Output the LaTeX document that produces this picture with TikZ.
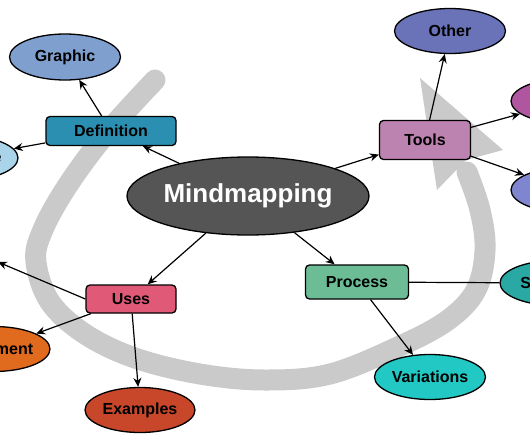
\documentclass[tikz,border=0pt]{standalone}
\usepackage{fontspec}
\setmainfont{Liberation Sans}
\usetikzlibrary{shapes.geometric,arrows.meta}
\definecolor{loopgrey}{HTML}{CACACA}
\definecolor{cmind}{HTML}{555555}
\definecolor{cdef}{HTML}{2A8FB0}
\definecolor{cgraph}{HTML}{7F9FCF}
\definecolor{ctech}{HTML}{A9D4EA}
\definecolor{ctools}{HTML}{BC82B0}
\definecolor{cother}{HTML}{6A72B8}
\definecolor{cmag}{HTML}{B0559F}
\definecolor{cperi}{HTML}{7F86CF}
\definecolor{cproc}{HTML}{6CBD96}
\definecolor{cstruct}{HTML}{2AA8A4}
\definecolor{cvar}{HTML}{22C9C4}
\definecolor{cuses}{HTML}{E05A78}
\definecolor{cdoc}{HTML}{E06A1E}
\definecolor{cex}{HTML}{C8472A}
\tikzset{
  lbl/.style={font=\fontsize{16}{18}\selectfont\bfseries, text=black},
  boxnode/.style={lbl, draw=black, line width=1.3pt, rounded corners=4pt, inner sep=0pt},
  ellnode/.style={lbl, ellipse, draw=black, line width=1.3pt, inner sep=0pt, minimum width=112pt, minimum height=45pt},
  conn/.style={line width=1.2pt, -{Stealth[length=9pt,width=8pt,inset=3pt]}},
  plainconn/.style={line width=1.2pt},
}
\begin{document}
\begin{tikzpicture}[x=1pt,y=-1pt]
\useasboundingbox (0,0) rectangle (530,442);
\clip (0,0) rectangle (530,442);
% grey loop arrow
\draw[loopgrey, line width=21pt, line cap=round]
  plot[smooth, tension=0.6] coordinates {(155,80) (105,135) (66,188) (42,232) (36,262) (50,302) (85,334) (135,358) (200,374) (265,380) (330,374) (400,346) (448,320) (476,290) (485,250) (480,210) (467,172)};
\fill[loopgrey] (420,78) -- (503,150) -- (466,160) -- (437,190) -- cycle;

% nodes
\node[lbl, ellipse, draw=black, line width=1.3pt, fill=cmind, minimum width=242pt, minimum height=78pt, inner sep=0pt, text=white, font=\fontsize{26}{30}\selectfont\bfseries] (mind) at (248,196) {Mindmapping};
\node[boxnode, fill=cdef, minimum width=130pt, minimum height=29pt] (def) at (111,131) {Definition};
\node[ellnode, fill=cgraph, minimum width=111pt, minimum height=46pt] (graph) at (65,57) {Graphic};
\node[ellnode, fill=ctech] (tech) at (-38,158) {Technique};
\node[boxnode, fill=ctools, minimum width=91pt, minimum height=39pt] (tools) at (425,140) {Tools};
\node[ellnode, fill=cother, minimum width=111pt] (other) at (450,31) {Other};
\node[ellnode, fill=cmag] (mag) at (567,101) {Software};
\node[ellnode, fill=cperi] (peri) at (567,190) {Maps};
\node[boxnode, fill=cproc, minimum width=103pt, minimum height=34pt] (proc) at (357,282) {Process};
\node[ellnode, fill=cstruct] (struct) at (556,283) {Structure};
\node[ellnode, fill=cvar, minimum width=111pt] (var) at (430,377) {Variations};
\node[boxnode, fill=cuses, minimum width=90pt, minimum height=28pt] (uses) at (131,299) {Uses};
\node[ellnode, fill=cdoc] (doc) at (-6,349) {Document};
\node[ellnode, fill=cex, minimum width=110pt] (ex) at (140,410) {Examples};
\coordinate (uout) at (-2,262);

% connectors
\draw[conn] (mind) -- (def);
\draw[conn] (def) -- (graph);
\draw[conn] (def) -- (tech);
\draw[conn] (mind) -- (tools);
\draw[conn] (tools) -- (other);
\draw[conn] (tools) -- (mag);
\draw[conn] (tools) -- (peri);
\draw[conn] (mind) -- (uses);
\draw[conn] (mind) -- (proc);
\draw[conn] (uses.west) -- (uout);
\draw[conn] (uses) -- (doc);
\draw[conn] (uses) -- (ex);
\draw[conn] (proc) -- (var);
\draw[plainconn] (proc) -- (struct);
\end{tikzpicture}
\end{document}
